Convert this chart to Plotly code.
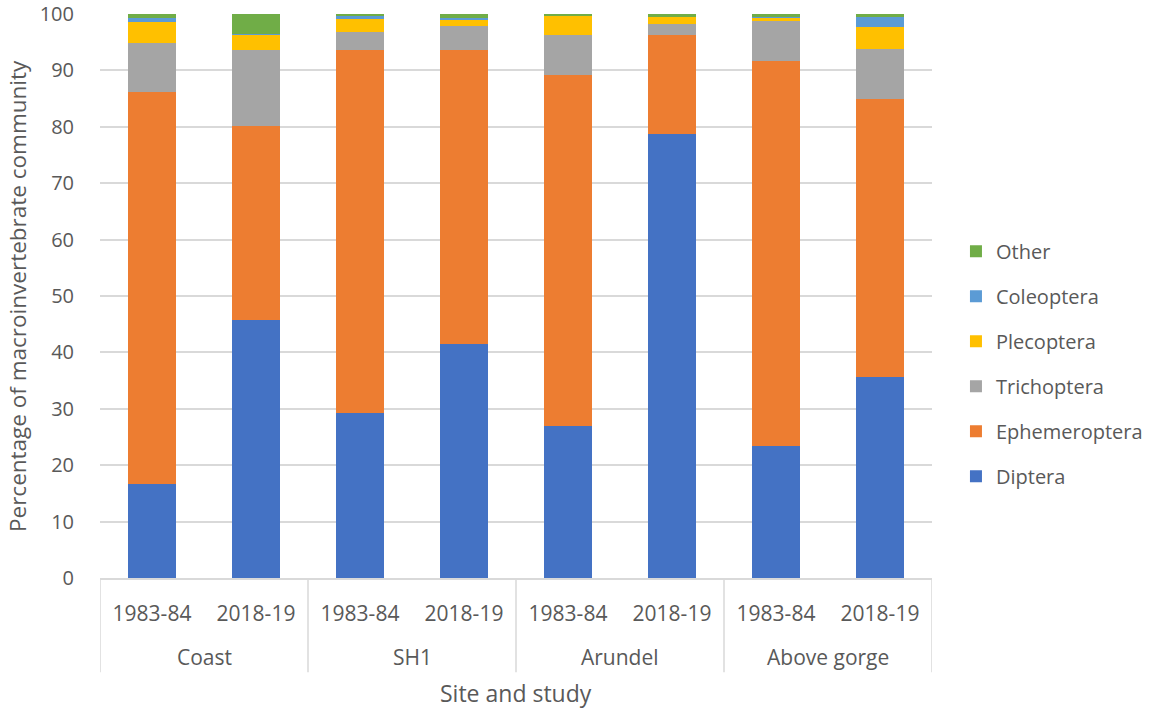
import plotly.graph_objects as go

# Sites and survey periods
sites = ["Coast", "Coast", "SH1", "SH1", "Arundel", "Arundel", "Above gorge", "Above gorge"]
studies = ["1983-84", "2018-19", "1983-84", "2018-19", "1983-84", "2018-19", "1983-84", "2018-19"]

# Percentage composition of the macroinvertebrate community
diptera = [16.7, 45.8, 29.3, 41.5, 26.9, 78.7, 23.4, 35.6]
ephemeroptera = [69.5, 34.4, 64.3, 52.1, 62.2, 17.6, 68.2, 49.4]
trichoptera = [8.7, 13.4, 3.2, 4.3, 7.1, 1.9, 7.2, 8.8]
plecoptera = [3.7, 2.7, 2.3, 1.2, 3.5, 1.3, 0.5, 3.9]
coleoptera = [0.7, 0.2, 0.7, 0.2, 0.0, 0.0, 0.1, 1.8]
other = [0.7, 3.5, 0.2, 0.7, 0.3, 0.5, 0.6, 0.5]

groups = [
    ("Diptera", diptera, "#4472C4"),
    ("Ephemeroptera", ephemeroptera, "#ED7D31"),
    ("Trichoptera", trichoptera, "#A5A5A5"),
    ("Plecoptera", plecoptera, "#FFC000"),
    ("Coleoptera", coleoptera, "#5B9BD5"),
    ("Other", other, "#70AD47"),
]

text_color = "#595959"
grid_color = "#D9D9D9"
font_family = "Open Sans, Liberation Sans, sans-serif"

# One slot per bar along a numeric x axis; studies label the slots
positions = list(range(len(studies)))

fig = go.Figure()
n = len(groups)
for i, (name, values, color) in enumerate(groups):
    fig.add_trace(go.Bar(
        x=positions,
        y=values,
        name=name,
        legendgroup=name,
        legendrank=n - i,
        width=0.46,
        marker=dict(color=color, line=dict(width=0)),
    ))

# Site names under the study labels, with divider lines between sites
site_order = []
for s in sites:
    if s not in site_order:
        site_order.append(s)

annotations = []
shapes = []
for s in site_order:
    idx = [p for p, name in zip(positions, sites) if name == s]
    annotations.append(dict(
        x=sum(idx) / len(idx), y=-0.140, xref="x", yref="paper",
        text=s, showarrow=False, yanchor="middle",
        font=dict(size=21, color=text_color),
    ))
    shapes.append(dict(
        type="line", xref="x", yref="paper",
        x0=min(idx) - 0.5, x1=min(idx) - 0.5, y0=0, y1=-0.167,
        line=dict(color=grid_color, width=1.5),
    ))
shapes.append(dict(
    type="line", xref="x", yref="paper",
    x0=positions[-1] + 0.5, x1=positions[-1] + 0.5, y0=0, y1=-0.167,
    line=dict(color=grid_color, width=1.5),
))

# Axis titles
annotations.append(dict(
    x=0.5, y=-0.2031, xref="paper", yref="paper",
    text="Site and study", showarrow=False, yanchor="middle", xanchor="center",
    font=dict(size=23, color=text_color),
))
annotations.append(dict(
    x=(17 - 100) / 832, y=0.5, xref="paper", yref="paper",
    text="Percentage of macroinvertebrate community", showarrow=False,
    textangle=-90, yanchor="middle", xanchor="center",
    font=dict(size=22.5, color=text_color),
))

fig.update_layout(
    width=1150,
    height=708,
    barmode="stack",
    plot_bgcolor="white",
    paper_bgcolor="white",
    margin=dict(l=100, r=218, t=14, b=130, autoexpand=False),
    font=dict(family=font_family, size=20, color=text_color),
    showlegend=True,
    legend=dict(
        traceorder="grouped",
        tracegroupgap=16,
        x=1.0288,
        y=0.380,
        yanchor="middle",
        xanchor="left",
        font=dict(size=20, color=text_color),
    ),
    annotations=annotations,
    shapes=shapes,
    xaxis=dict(
        range=[-0.5, len(studies) - 0.5],
        tickmode="array",
        tickvals=positions,
        ticktext=studies,
        showgrid=False,
        zeroline=False,
        showline=True,
        linecolor=grid_color,
        linewidth=1.5,
        ticks="",
        ticklabelstandoff=16,
        tickfont=dict(size=21, color=text_color),
        automargin=False,
    ),
    yaxis=dict(
        range=[0, 100],
        dtick=10,
        showgrid=True,
        gridcolor=grid_color,
        gridwidth=1.5,
        zeroline=False,
        ticks="",
        ticklabelstandoff=25,
        tickfont=dict(size=20, color=text_color),
        automargin=False,
    ),
)

fig.write_html("out.html")
